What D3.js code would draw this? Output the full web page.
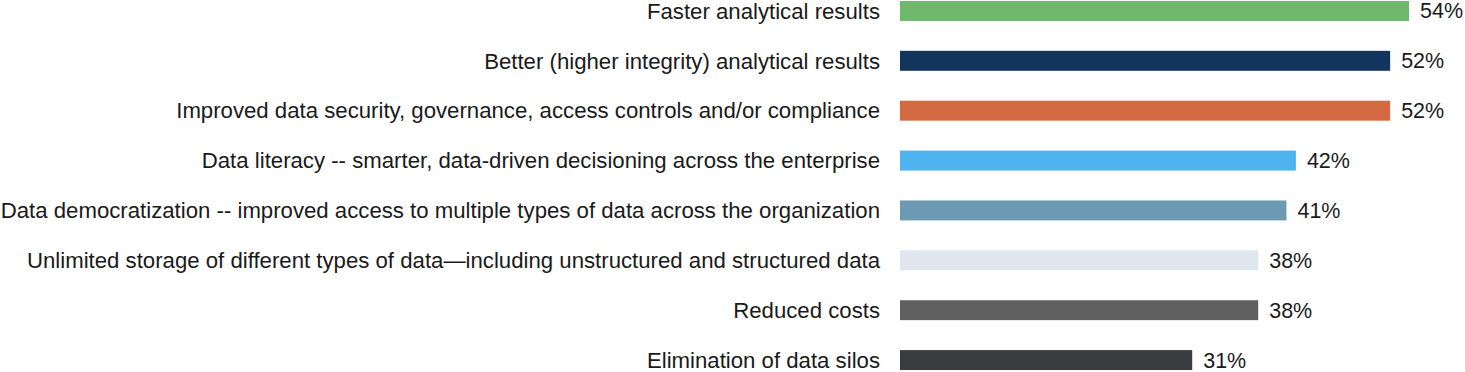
<!DOCTYPE html>
<html><head><meta charset="utf-8">
<script src="https://cdn.jsdelivr.net/npm/d3@7"></script>
<style>body{margin:0;background:#fff}svg{display:block}</style>
</head><body>
<script>
const categories = [
  "Faster analytical results",
  "Better (higher integrity) analytical results",
  "Improved data security, governance, access controls and/or compliance",
  "Data literacy -- smarter, data-driven decisioning across the enterprise",
  "Data democratization -- improved access to multiple types of data across the organization",
  "Unlimited storage of different types of data\u2014including unstructured and structured data",
  "Reduced costs",
  "Elimination of data silos"
];
const values = [54, 52, 52, 42, 41, 38, 38, 31];
const colors = ["#70b86b", "#12355e", "#d46a43", "#4fb3ef", "#6b9ab2", "#dfe6ee", "#606060", "#3b3c3e"];

const W = 1465, H = 372;
const svg = d3.select("body").append("svg").attr("width", W).attr("height", H);
const x = d3.scaleLinear().domain([0, 54]).range([900, 1409]);
const y = d3.scaleBand().domain(categories).range([-14, 385]).paddingInner(0.6).paddingOuter(0.3);

svg.selectAll("rect.bar").data(categories).join("rect")
  .attr("x", x(0)).attr("y", d => y(d)).attr("height", y.bandwidth())
  .attr("width", (d, i) => x(values[i]) - x(0))
  .attr("fill", (d, i) => colors[i]);

svg.selectAll("text.cat").data(categories).join("text")
  .attr("x", 880).attr("y", d => y(d) + y.bandwidth() / 2)
  .attr("dy", "0.35em").attr("text-anchor", "end")
  .attr("font-family", "Liberation Sans, Arial, sans-serif").attr("font-size", 22.2)
  .attr("fill", "#1a1a1a").text(d => d);

svg.selectAll("text.val").data(categories).join("text")
  .attr("x", (d, i) => x(values[i]) + 11).attr("y", d => y(d) + y.bandwidth() / 2)
  .attr("dy", "0.35em")
  .attr("font-family", "Liberation Sans, Arial, sans-serif").attr("font-size", 21.5)
  .attr("fill", "#1a1a1a").text((d, i) => values[i] + "%");
</script>
</body></html>
